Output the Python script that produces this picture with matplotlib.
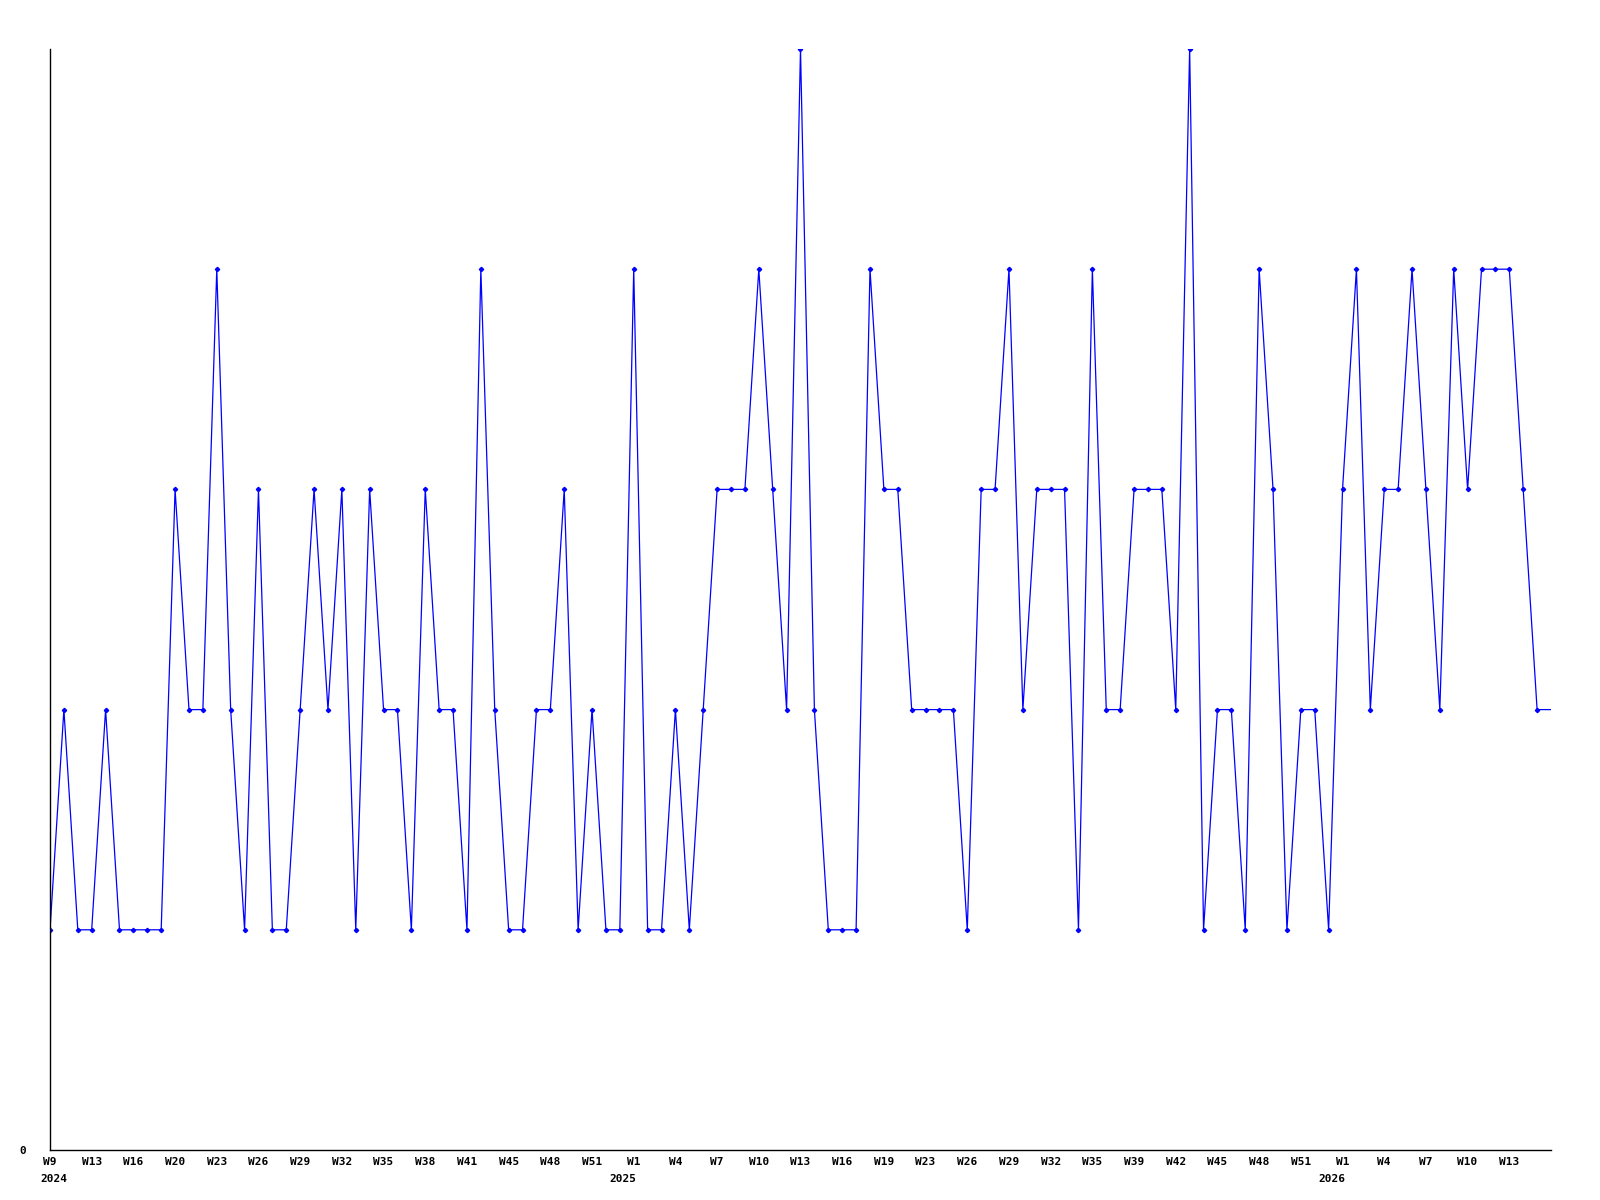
import numpy as np
import matplotlib
matplotlib.use("Agg")
import matplotlib.pyplot as plt

# weekly values, 2024 W9 .. 2026 W14 (last one is the running week, no marker)
values = [1, 2, 1, 1, 2, 1, 1, 1, 1, 3, 2, 2, 4, 2, 1, 3, 1, 1, 2, 3,
          2, 3, 1, 3, 2, 2, 1, 3, 2, 2, 1, 4, 2, 1, 1, 2, 2, 3, 1, 2,
          1, 1, 4, 1, 1, 2, 1, 2, 3, 3, 3, 4, 3, 2, 5, 2, 1, 1, 1, 4,
          3, 3, 2, 2, 2, 2, 1, 3, 3, 4, 2, 3, 3, 3, 1, 4, 2, 2, 3, 3,
          3, 2, 5, 1, 2, 2, 1, 4, 3, 1, 2, 2, 1, 3, 4, 2, 3, 3, 4, 3,
          2, 4, 3, 4, 4, 4, 3, 2, 2]

week_labels = ['W9', 'W13', 'W16', 'W20', 'W23', 'W26', 'W29', 'W32', 'W35',
               'W38', 'W41', 'W45', 'W48', 'W51', 'W1', 'W4', 'W7', 'W10',
               'W13', 'W16', 'W19', 'W23', 'W26', 'W29', 'W32', 'W35', 'W39',
               'W42', 'W45', 'W48', 'W51', 'W1', 'W4', 'W7', 'W10', 'W13']
years = ['2024', '2025', '2026']
year_x = [0.25, 41.2, 92.2]

x = np.arange(len(values))
blue = '#0000ff'

fig = plt.figure(figsize=(16, 12), dpi=100)
ax = fig.add_axes([50 / 1600, 50 / 1200, 1501 / 1600, 1101 / 1200])

ax.plot(x, values, color=blue, lw=0.9, marker='D', ms=2.2,
        markevery=list(range(len(values) - 1)))

ax.set_xlim(0, len(values) - 1)
ax.set_ylim(0, max(values))

for s in ['top', 'right']:
    ax.spines[s].set_visible(False)
for s in ['left', 'bottom']:
    ax.spines[s].set_linewidth(1.0)
    ax.spines[s].set_color('black')

font = dict(family='DejaVu Sans Mono', weight='bold', size=8)
ax.set_xticks(x[::3][:len(week_labels)])
ax.set_xticklabels(week_labels, **font)
ax.set_yticks([0])
ax.set_yticklabels(['0'], **font)
ax.tick_params(axis='x', length=0, pad=5)
ax.tick_params(axis='y', length=0, pad=17)

for yr, xp in zip(years, year_x):
    ax.annotate(yr, xy=(xp, 0), xycoords=('data', 'axes fraction'),
                xytext=(0, -29), textcoords='offset pixels',
                ha='center', va='center', **font)

fig.savefig('out.png', dpi=100)
